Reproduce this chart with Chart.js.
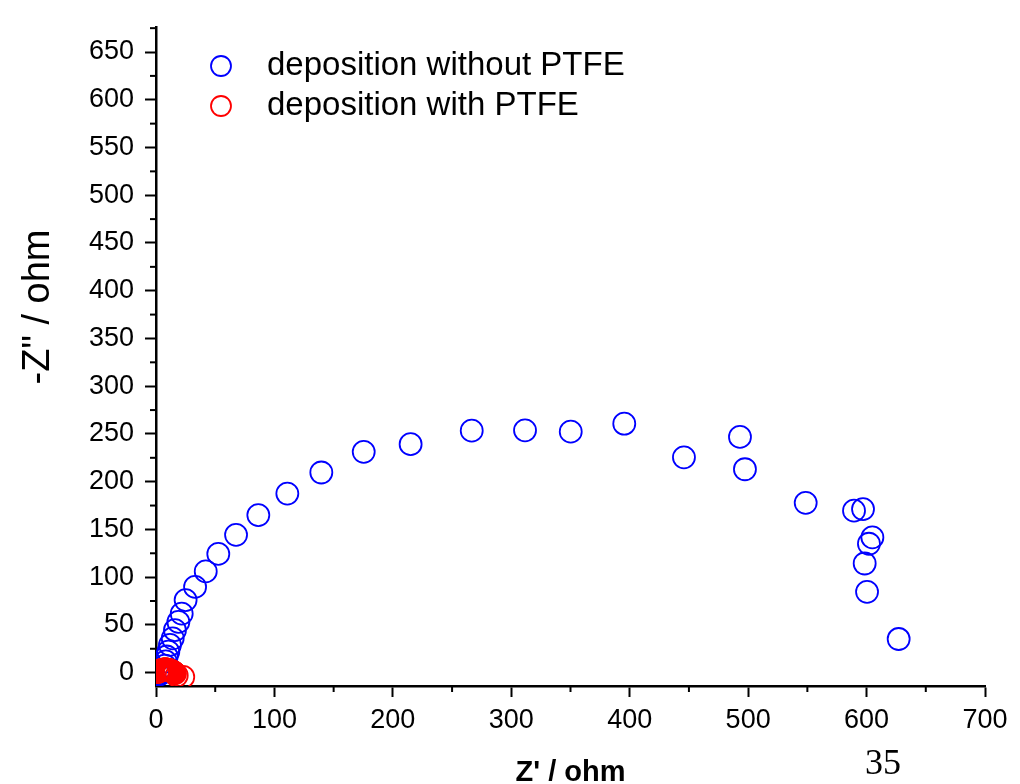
<!DOCTYPE html>
<html>
<head>
<meta charset="utf-8">
<title>Nyquist plot</title>
<script src="https://cdn.jsdelivr.net/npm/chart.js@4.4.1/dist/chart.umd.min.js"></script>
<style>
  body { margin: 0; background: #fff; }
</style>
</head>
<body>
<canvas id="nyquistChart" width="1020" height="784"></canvas>
<script>
// values (Z' and -Z'' in ohm)
const withoutPtfeX = [2.5, 3.5, 4.5, 5.5, 6.5, 7.6, 8.2, 9, 10.4, 11.8, 14.1, 16, 18.9, 21.7, 25,
    33, 42, 52.6, 67.6, 86.4, 110.9, 139.6, 175.4, 215, 266.6, 311.6, 350.2, 395.4, 445.8, 493.1,
    497.3, 548.6, 589.4, 597, 602, 604.9, 598.4, 600.4, 627.1];
const withoutPtfeY = [-2, -1.5, -0.5, 1, 3, 7.3, 11.7, 16.9, 22, 29, 35.9, 44.5, 53.1, 61.8, 76,
    89.8, 106, 124.3, 144.3, 165, 187.5, 209.6, 231.3, 239.3, 253.4, 253.8, 252.4, 260.7, 225.5, 246.9,
    213, 177.8, 169.6, 171.3, 135, 141.6, 114.3, 84.6, 35.2];

const withPtfeX = [1.5, 2, 2.5, 3, 3.5, 4, 4.5, 5, 5.5, 6, 6.5, 7, 7.5, 8, 8.5, 9, 9.5, 10, 10.5, 11,
    11.5, 12, 12.5, 13, 13.5, 14, 14.5, 15, 15.5, 16, 17.5, 23];
const withPtfeY = [0.5, 1, 1.4, 1.8, 2.1, 2.4, 2.6, 2.8, 3, 3.1, 3.2, 3.3, 3.3, 3.3, 3.3, 3.2, 3.1, 3, 2.8, 2.6,
    2.4, 2.2, 1.9, 1.6, 1.3, 1, 0.6, 0.2, -0.3, -0.8, -3, -4.5];

const seriesLabels = ["deposition without PTFE", "deposition with PTFE"];
const seriesColors = ["#0000ff", "#ff0000"];

const xTickValues = [0, 100, 200, 300, 400, 500, 600, 700];
const yTickValues = [0, 50, 100, 150, 200, 250, 300, 350, 400, 450, 500, 550, 600, 650];
const xMinorValues = [50, 150, 250, 350, 450, 550, 650];
const yMinorValues = [25, 75, 125, 175, 225, 275, 325, 375, 425, 475, 525, 575, 625, 675];

const xTitle = "Z' / ohm";
const yTitle = '-Z" / ohm';
const pageNumber = "35";

const sans = '"Liberation Sans", Arial, sans-serif';

function toPoints(xs, ys) {
    return xs.map(function(x, i) { return {x: x, y: ys[i]}; });
}

// short ticks between the labelled ones
const minorTicks = {
    id: "minorTicks",
    afterDraw(chart) {
        const ctx = chart.ctx;
        const xs = chart.scales.x, ys = chart.scales.y;
        const area = chart.chartArea;
        ctx.save();
        ctx.strokeStyle = "#000";
        ctx.lineWidth = 2;
        xMinorValues.forEach(function(v) {
            const px = xs.getPixelForValue(v);
            ctx.beginPath();
            ctx.moveTo(px, area.bottom);
            ctx.lineTo(px, area.bottom + 6);
            ctx.stroke();
        });
        yMinorValues.forEach(function(v) {
            const py = ys.getPixelForValue(v);
            ctx.beginPath();
            ctx.moveTo(area.left, py);
            ctx.lineTo(area.left - 6, py);
            ctx.stroke();
        });
        ctx.restore();
    }
};

// legend inside the plot, y title and the page number
const extras = {
    id: "extras",
    afterDraw(chart) {
        const ctx = chart.ctx;
        ctx.save();
        chart.data.datasets.forEach(function(ds, i) {
            const cy = 66 + i * 40;
            ctx.beginPath();
            ctx.arc(221, cy, 10, 0, Math.PI * 2);
            ctx.lineWidth = 1.8;
            ctx.strokeStyle = ds.borderColor;
            ctx.stroke();
            ctx.fillStyle = "#000";
            ctx.font = "33px " + sans;
            ctx.textAlign = "left";
            ctx.textBaseline = "middle";
            ctx.fillText(ds.label, 267, cy);
        });

        ctx.translate(39, 307);
        ctx.rotate(-Math.PI / 2);
        ctx.font = "38px " + sans;
        ctx.textAlign = "center";
        ctx.textBaseline = "middle";
        ctx.fillText(yTitle, 0, 0);
        ctx.setTransform(1, 0, 0, 1, 0, 0);

        ctx.font = '36px "Liberation Serif", "Times New Roman", serif';
        ctx.textAlign = "center";
        ctx.textBaseline = "alphabetic";
        ctx.fillText(pageNumber, 883, 774);
        ctx.restore();
    }
};

window.onload = function() {
    const context = document.getElementById("nyquistChart").getContext("2d");
    new Chart(context, {
        type: "scatter",
        data: {
            datasets: [{
                label: seriesLabels[0],
                data: toPoints(withoutPtfeX, withoutPtfeY),
                borderColor: seriesColors[0],
                backgroundColor: "rgba(0,0,0,0)",
                pointRadius: 11,
                pointHoverRadius: 11,
                pointBorderWidth: 1.8,
                order: 1
            }, {
                label: seriesLabels[1],
                data: toPoints(withPtfeX, withPtfeY),
                borderColor: seriesColors[1],
                backgroundColor: "rgba(0,0,0,0)",
                pointRadius: 11,
                pointHoverRadius: 11,
                pointBorderWidth: 1.8,
                order: 0
            }]
        },
        options: {
            responsive: false,
            animation: false,
            layout: { padding: { top: 20, right: 35, left: 0, bottom: 0 } },
            plugins: {
                legend: { display: false },
                tooltip: { enabled: false }
            },
            scales: {
                x: {
                    type: "linear",
                    min: 0,
                    max: 700,
                    afterBuildTicks: function(scale) {
                        scale.ticks = xTickValues.map(function(v) { return {value: v}; });
                    },
                    afterFit: function(scale) { scale.height = 98; },
                    grid: { drawOnChartArea: false, drawTicks: true, tickLength: 11, tickWidth: 2, tickColor: "#000" },
                    border: { display: true, color: "#000", width: 2.5 },
                    ticks: {
                        color: "#000",
                        font: { family: sans, size: 27 },
                        padding: 7,
                        maxRotation: 0,
                        autoSkip: false
                    },
                    title: {
                        display: true,
                        text: xTitle,
                        color: "#000",
                        font: { family: sans, size: 29, weight: "bold" },
                        padding: { top: 0, bottom: -6 }
                    }
                },
                y: {
                    type: "linear",
                    min: -14,
                    max: 676,
                    afterBuildTicks: function(scale) {
                        scale.ticks = yTickValues.map(function(v) { return {value: v}; });
                    },
                    afterFit: function(scale) { scale.width = 156; },
                    grid: { drawOnChartArea: false, drawTicks: true, tickLength: 11, tickWidth: 2, tickColor: "#000" },
                    border: { display: true, color: "#000", width: 2.5 },
                    ticks: {
                        color: "#000",
                        font: { family: sans, size: 27 },
                        padding: 11,
                        autoSkip: false
                    }
                }
            }
        },
        plugins: [minorTicks, extras]
    });
};
</script>
</body>
</html>
